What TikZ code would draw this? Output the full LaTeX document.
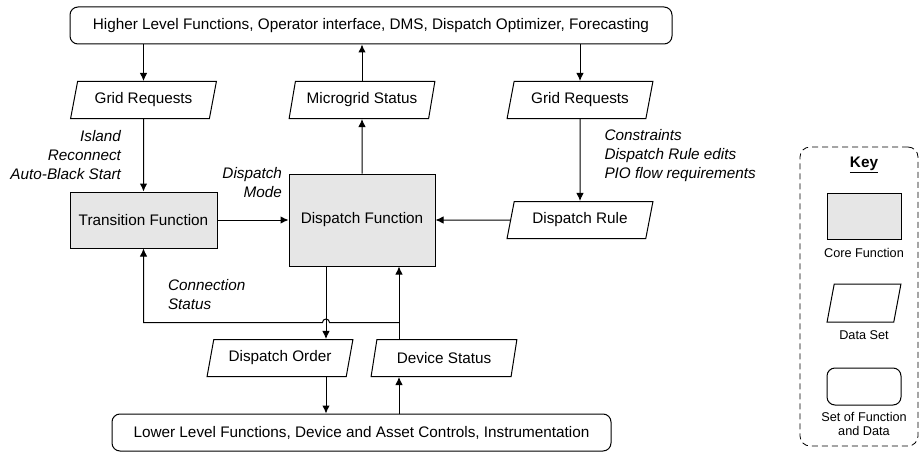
\documentclass[tikz,border=0pt]{standalone}
\usepackage{fontspec}
\setmainfont{Liberation Sans}
\usetikzlibrary{shapes.geometric,arrows.meta,calc,positioning}
\definecolor{coregray}{HTML}{E6E6E6}
\newcommand\bodysize{\fontsize{15.3}{19}\selectfont}
\tikzset{
    core/.style={draw, fill=coregray, inner sep=0pt},
    data/.style={draw, trapezium, trapezium left angle=70, trapezium right angle=110, trapezium stretches=true, minimum width=146pt, minimum height=37pt, inner sep=0pt},
    group/.style={draw, rounded corners=8pt, minimum height=37pt, inner sep=0pt},
    lab/.style={font=\bodysize\itshape, inner sep=0pt},
    keytxt/.style={font=\fontsize{12.7}{14}\selectfont, align=center, inner sep=0pt}
}

\begin{document}
\begin{tikzpicture}[x=1pt, y=-1pt, >={Latex[length=8pt,width=7.5pt]}, line width=1pt, node distance=120pt, font=\bodysize]
    \useasboundingbox (0,0) rectangle (921,452);

    \node[group, minimum width=602pt] (high) at (371,25.5) {Higher Level Functions, Operator interface, DMS, Dispatch Optimizer, Forecasting};
    \node[core, minimum width=146pt, minimum height=92pt] (disp) at (362,220) {Dispatch Function};
    \node[core, minimum width=147pt, minimum height=56pt] (trans) at (143.5,220) {Transition Function};
    \node[data, above of=trans] (gr1) {Grid Requests};
    \node[data, above of=disp] (ms) {Microgrid Status};
    \node[data] (rule) at (580,220) {Dispatch Rule};
    \node[data, above of=rule] (gr2) {Grid Requests};
    \node[data, below of=disp, xshift=-82pt, yshift=-18pt] (order) {Dispatch Order};
    \node[data, below of=disp, xshift=82pt, yshift=-18pt] (dev) {Device Status};
    \node[group, minimum width=499pt] (low) at (361.5,432.5) {Lower Level Functions, Device and Asset Controls, Instrumentation};

    \draw[->] (high.south -| gr1.north) -- (gr1.north);
    \draw[->] (ms.north) -- (ms.north |- high.south);
    \draw[->] (high.south -| gr2.north) -- (gr2.north);
    \draw[->] (gr1.south) -- node[lab, left=22pt, align=right] {Island\\Reconnect\\Auto-Black Start} (trans.north);
    \draw[->] (disp.north) -- (ms.south);
    \draw[->] (gr2.south) -- node[lab, right=24pt, yshift=4pt, align=left] {Constraints\\Dispatch Rule edits\\PIO flow requirements} (rule.north);
    \draw[->] (rule.west) -- (disp.east);
    \draw[->] (trans.east) -- (disp.west);
    \node[lab, align=right, anchor=east] (mode) at ($(disp.west)+(-6,-37)$) {Dispatch\\Mode};

    \coordinate (dn) at ($(disp.south)+(-36,0)$);
    \coordinate (up) at ($(disp.south)+(37,0)$);
    \coordinate (fb) at ($(up)+(0,56)$);
    \draw[->] (dn) -- (dn |- order.north);
    \draw[->] (dn |- order.south) -- (dn |- low.north);
    \draw[->] (up |- low.north) -- (up |- dev.south);
    \draw[->] (up |- dev.north) -- (up);
    \draw[->] (fb) -- ($(dn |- fb)+(3.5,0)$) arc (0:180:3.5pt) -- (trans.south |- fb) -- node[lab, right=24pt, yshift=-9pt, align=left] {Connection\\Status} (trans.south);

    \node[draw, dash pattern=on 6pt off 4pt, rounded corners=10pt, line width=0.8pt, minimum width=118pt, minimum height=299pt] (keybox) at (859,296.5) {};
    \node[font=\bodysize\bfseries, inner sep=0pt] (keyt) at (864,165) {\underline{Key}};
    \node[core, minimum width=74pt, minimum height=46pt] (kcore) at (864,216) {};
    \node[keytxt, below=8pt of kcore] (kcoret) {Core Function};
    \node[data, minimum width=74pt, minimum height=38pt] (kdata) at (864,303) {\phantom{Data}};
    \node[keytxt, below=8pt of kdata] (kdatat) {Data Set};
    \node[group, minimum width=74pt] (kset) at (864,386.5) {};
    \node[keytxt, below=6pt of kset] (ksett) {Set of Function\\and Data};
\end{tikzpicture}
\end{document}
